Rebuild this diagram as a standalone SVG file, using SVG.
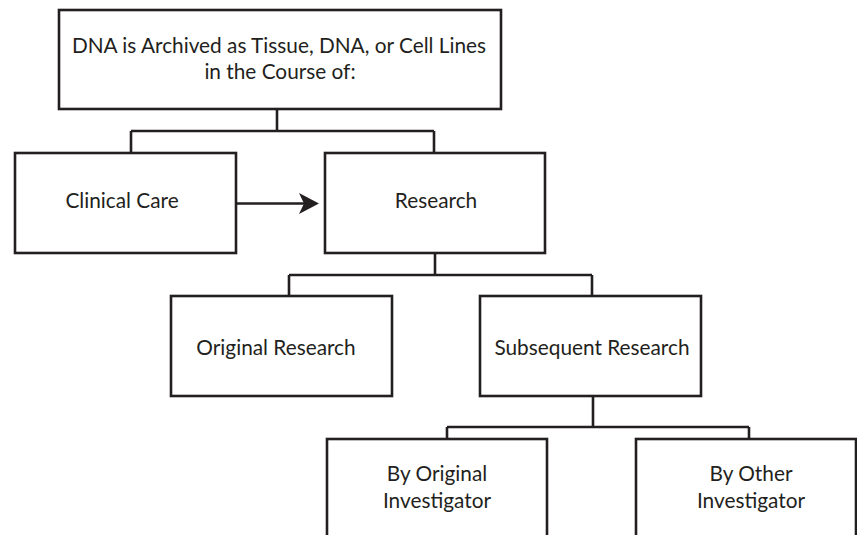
<svg xmlns="http://www.w3.org/2000/svg" width="857" height="535" viewBox="0 0 857 535">
<style>
.box{fill:#fff;stroke:#231f20;stroke-width:2.6}
.ln{fill:none;stroke:#231f20;stroke-width:2.6}
text{font-family:"Lato","Open Sans","Liberation Sans",sans-serif;font-size:20.8px;fill:#231f20;text-anchor:middle}
</style>
<rect width="857" height="535" fill="#fff"/>
<g id="connectors">
<path class="ln" d="M277,109 V131 M131,131 H434 M131,131 V153 M434,131 V153"/>
<path class="ln" d="M236,203.5 H304"/>
<path d="M319,203.5 L299,193 L304,203.5 L299,214 Z" fill="#231f20"/>
<path class="ln" d="M435,253 V275 M289,275 H592 M289,275 V296 M592,275 V296"/>
<path class="ln" d="M593,396 V427 M447,427 H749 M447,427 V439 M749,427 V439"/>
</g>
<g id="top">
<rect class="box" x="59" y="10" width="442" height="99"/>
<text x="279" y="53">DNA is Archived as Tissue, DNA, or Cell Lines</text>
<text x="280" y="79">in the Course of:</text>
</g>
<g id="clinical">
<rect class="box" x="15" y="153" width="221" height="100"/>
<text x="122" y="208">Clinical Care</text>
</g>
<g id="research">
<rect class="box" x="325" y="153" width="220" height="100"/>
<text x="436" y="208">Research</text>
</g>
<g id="original">
<rect class="box" x="171" y="296" width="221" height="100"/>
<text x="276" y="355">Original Research</text>
</g>
<g id="subsequent">
<rect class="box" x="480" y="296" width="221" height="100"/>
<text x="592" y="355">Subsequent Research</text>
</g>
<g id="byoriginal">
<rect class="box" x="327" y="439" width="220" height="120"/>
<text x="437" y="481">By Original</text>
<text x="437" y="508">Investigator</text>
</g>
<g id="byother">
<rect class="box" x="636" y="439" width="220" height="120"/>
<text x="751" y="481">By Other</text>
<text x="751" y="508">Investigator</text>
</g>
</svg>
